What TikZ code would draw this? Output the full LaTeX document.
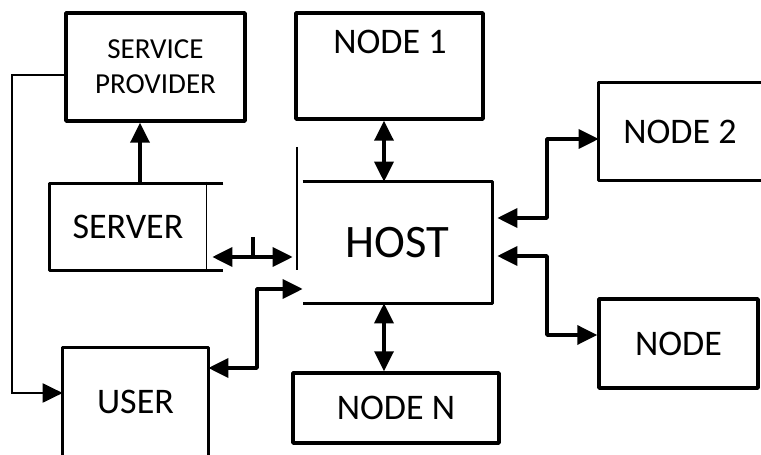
\documentclass[tikz,border=0pt]{standalone}
\usepackage{fontspec}
\setmainfont{Carlito}
\usetikzlibrary{arrows.meta}

\begin{document}
\begin{tikzpicture}[x=0.02cm,y=-0.02cm,
    box/.style={draw,line width=2pt,line join=round,inner sep=0pt,font=\fontsize{20.5}{23}\selectfont},
    open/.style={inner sep=0pt,font=\fontsize{20.5}{23}\selectfont},
    wire/.style={line width=2pt,line join=round},
    hair/.style={line width=0.8pt},
    tip/.style={-{Triangle[length=0.4cm,width=0.38cm]}},
    arr/.style={wire,tip},
    dbl/.style={wire,{Triangle[length=0.4cm,width=0.38cm]}-{Triangle[length=0.4cm,width=0.38cm]}}]
  \useasboundingbox (0,0) rectangle (761,455);

  % blocks
  \node[box,minimum width=3.58cm,minimum height=2.16cm,align=center,
        font=\fontsize{16.5}{20}\selectfont] (prov) at (155.5,67) {SERVICE\\PROVIDER};
  \node[box,minimum width=3.74cm,minimum height=2.12cm] (node1) at (389.5,66) {};
  \node[open] (node1t) at (390,42) {NODE 1};
  \node[open,minimum width=3.12cm,minimum height=1.72cm] (server) at (128,227) {SERVER};
  \node[open,minimum width=3.78cm,minimum height=2.42cm,
        font=\fontsize{26.5}{30}\selectfont] (host) at (397.5,242.5) {HOST};
  \node[open,minimum width=3.24cm,minimum height=1.94cm] (node2) at (680,131.5) {NODE 2};
  \node[box,minimum width=3.18cm,minimum height=1.78cm] (nodeb) at (678.5,343.5) {NODE};
  \node[box,minimum width=4.12cm,minimum height=1.4cm] (nodeN) at (396,408) {NODE N};
  \node[open,minimum width=2.9cm,minimum height=2.14cm] (user) at (135.5,401.5) {USER};

  % open sides
  \draw[wire] ([xshift=0.34cm]server.north east) -- (server.north west)
    -- (server.south west) -- ([xshift=0.34cm]server.south east);
  \draw[hair] ([yshift=0.04cm]server.north east) -- (server.south east);
  \draw[wire] (host.north west) -- (host.north east) -- (host.south east) -- (host.south west);
  \draw[hair] (297,147) -- (297,270);
  \draw[wire] (node2.north east) -- (node2.north west) -- (node2.south west) -- (node2.south east);
  \draw[wire] (user.south west) -- (user.north west) -- (user.north east) -- (user.south east);

  % bends
  \coordinate (sv) at (140,0);
  \coordinate (vx) at (384,0);
  \coordinate (lk) at (253,257);
  \coordinate (r1) at (547,218); \coordinate (r2) at (547,139);
  \coordinate (r3) at (547,256); \coordinate (r4) at (547,335);
  \coordinate (u1) at (257,289); \coordinate (u2) at (257,368);
  \coordinate (l1) at (12,75);   \coordinate (l2) at (12,393);

  % links
  \draw[arr] (server.north -| sv) -- (prov.south -| sv);
  \draw[dbl] (node1.south -| vx) -- (host.north -| vx);
  \draw[dbl] (host.south -| vx) -- (nodeN.north -| vx);
  \draw[dbl,shorten <=0.12cm,shorten >=0.2cm] (server.east |- lk) -- (host.west |- lk);
  \draw[wire] (lk) -- ++(0,-20);
  \draw[dbl,shorten <=0.1cm] (host.east |- r1) -- (r1) -- (r2) -- (node2.west |- r2);
  \draw[dbl,shorten <=0.1cm] (host.east |- r3) -- (r3) -- (r4) -- (nodeb.west |- r4);
  \draw[dbl] (host.west |- u1) -- (u1) -- (u2) -- (user.east |- u2);
  \draw[tip,line width=1.2pt] (prov.west |- l1) -- (l1) -- (l2) -- (user.west |- l2);
\end{tikzpicture}
\end{document}
